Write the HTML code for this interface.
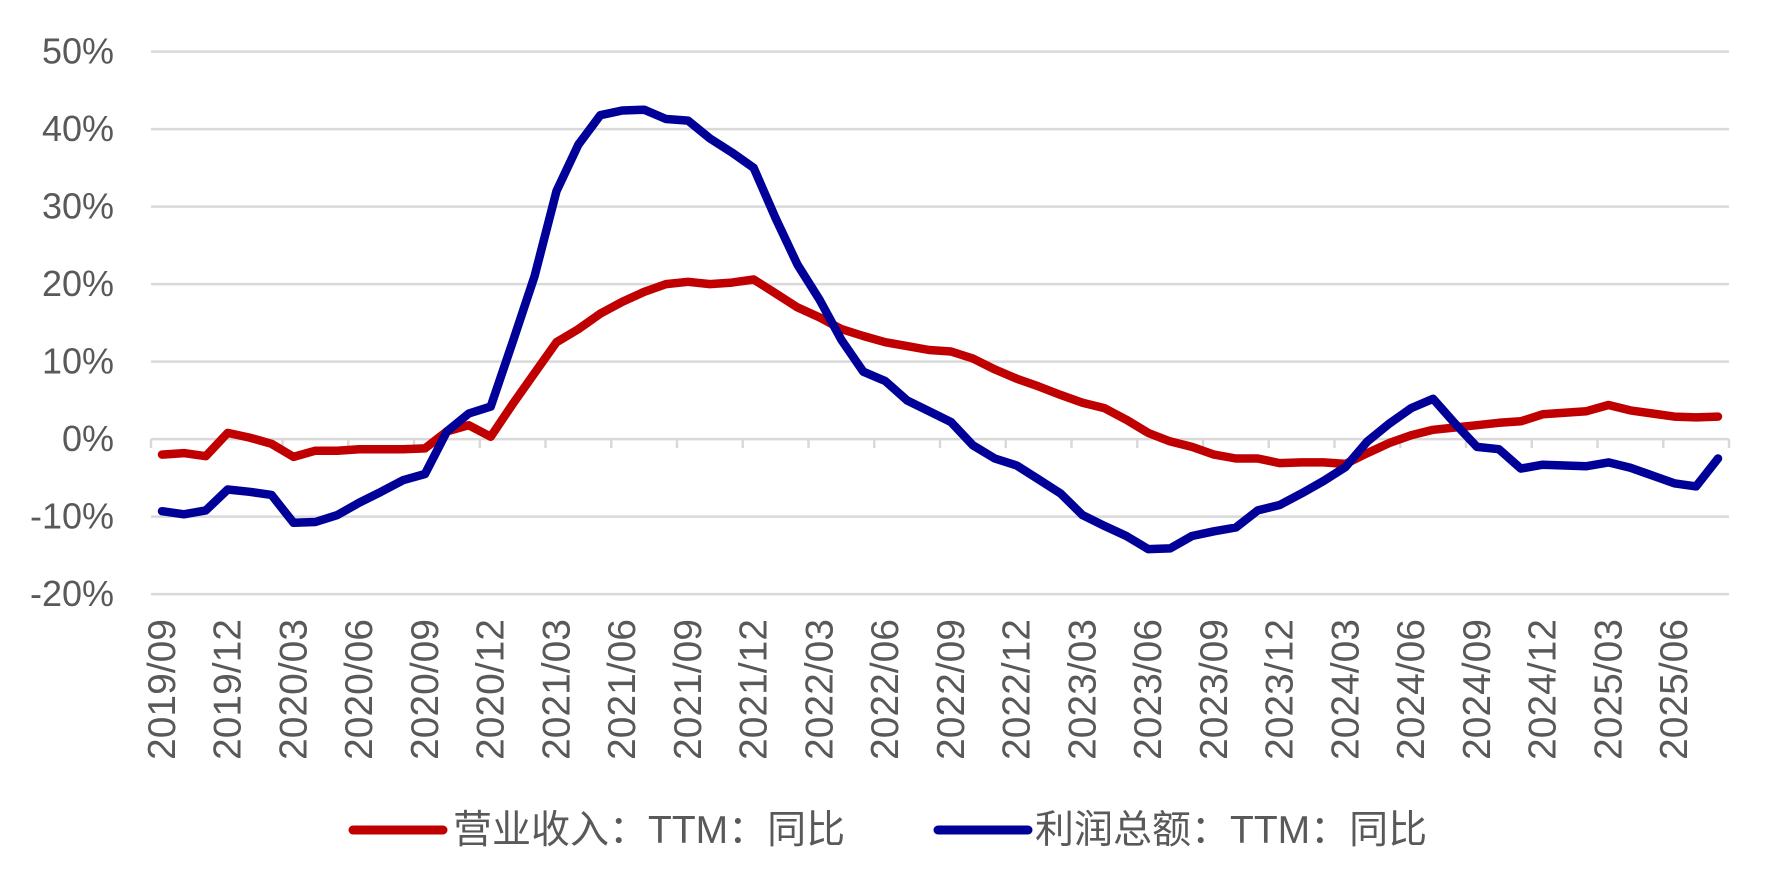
<!DOCTYPE html>
<html><head><meta charset="utf-8"><style>
html,body{margin:0;padding:0;background:#fff;}
svg{display:block;font-family:"Liberation Sans","Noto Sans CJK SC",sans-serif;}
</style></head><body>
<svg id="chart" width="1779" height="896" viewBox="0 0 1779 896" xmlns="http://www.w3.org/2000/svg">
<g id="grid"></g>
<g id="yaxis"></g>
<g id="xaxis"></g>
<g id="series"></g>
<g>
  <g>
    <line x1="353" y1="830" x2="443" y2="830" stroke="#C00000" stroke-width="9" stroke-linecap="round"/>
    <text x="453" y="843" font-size="39" fill="#595959">营业收入：TTM：同比</text>
  </g>
  <g>
    <line x1="938" y1="830" x2="1028" y2="830" stroke="#000099" stroke-width="9" stroke-linecap="round"/>
    <text x="1035" y="843" font-size="39" fill="#595959">利润总额：TTM：同比</text>
  </g>
</g>
</svg>
<script>
const revenue = [-2.0,-1.8,-2.2,0.8,0.2,-0.6,-2.3,-1.5,-1.5,-1.3,-1.3,-1.3,-1.2,1.0,1.8,0.3,4.5,8.5,12.5,14.2,16.2,17.7,19.0,20.0,20.3,20.0,20.2,20.6,18.8,17.0,15.7,14.2,13.3,12.5,12.0,11.5,11.3,10.4,9.0,7.8,6.8,5.7,4.7,4.0,2.5,0.8,-0.3,-1.0,-2.0,-2.5,-2.5,-3.1,-3.0,-3.0,-3.2,-1.8,-0.5,0.5,1.2,1.5,1.8,2.1,2.3,3.2,3.4,3.6,4.4,3.7,3.3,2.9,2.8,2.9];
const profit = [-9.3,-9.7,-9.2,-6.5,-6.8,-7.2,-10.8,-10.7,-9.8,-8.2,-6.8,-5.3,-4.5,1.0,3.3,4.2,12.5,21.0,32.0,38.0,41.8,42.4,42.5,41.3,41.1,38.8,37.0,35.0,28.5,22.5,18.0,12.8,8.7,7.5,5.0,3.6,2.2,-0.8,-2.5,-3.4,-5.2,-7.0,-9.8,-11.2,-12.5,-14.2,-14.1,-12.5,-11.9,-11.4,-9.2,-8.5,-7.0,-5.4,-3.6,-0.3,2.0,4.0,5.2,2.0,-1.0,-1.3,-3.8,-3.3,-3.4,-3.5,-3.0,-3.7,-4.7,-5.7,-6.1,-2.5];
const yTicks = [50,40,30,20,10,0,-10,-20];
const startYear = 2019, startMonth = 9;

const NS = "http://www.w3.org/2000/svg";
const L = 151, R = 1729, n = revenue.length;
const step = (R - L) / n;
const x = i => L + step * (i + 0.5);
const y = v => 439.1 - v * 7.75;
function mk(tag, attrs, parent){ const e=document.createElementNS(NS,tag); for(const k in attrs) e.setAttribute(k,attrs[k]); parent.appendChild(e); return e; }
const grid=document.getElementById('grid'), ya=document.getElementById('yaxis'), xa=document.getElementById('xaxis'), se=document.getElementById('series');

yTicks.forEach(t=>{
  const g = mk('line',{x1:L,x2:R,y1:y(t),y2:y(t),stroke:'#D9D9D9','stroke-width':2.5},grid);
  
  
  const tx = mk('text',{x:114,y:y(t)+12,'text-anchor':'end','font-size':36,fill:'#595959'},ya);
  tx.textContent = t + '%';
  
  
});
for(let k=0;k<=n;k+=3){
  const tk = mk('line',{x1:L+step*k,x2:L+step*k,y1:y(0),y2:y(0)+9,stroke:'#D9D9D9','stroke-width':2.5},xa);
  
  
}
for(let i=0;i<n;i+=3){
  const m0 = startMonth - 1 + i, yr = startYear + Math.floor(m0/12), mo = m0%12 + 1;
  const tx = mk('text',{transform:`translate(${x(i)+13},619) rotate(-90)`,'text-anchor':'end','font-size':39,fill:'#595959'},xa);
  tx.textContent = yr + '/' + String(mo).padStart(2,'0');
  
  
}
function line(data,color,name){
  const p = mk('path',{d:data.map((v,i)=>(i?'L':'M')+x(i).toFixed(1)+','+y(v).toFixed(1)).join(''),fill:'none',stroke:color,'stroke-width':8.5,'stroke-linejoin':'round','stroke-linecap':'round'},se);
  
  
}
line(revenue,'#C00000','revenue-line');
line(profit,'#000099','profit-line');
</script>
</body></html>
